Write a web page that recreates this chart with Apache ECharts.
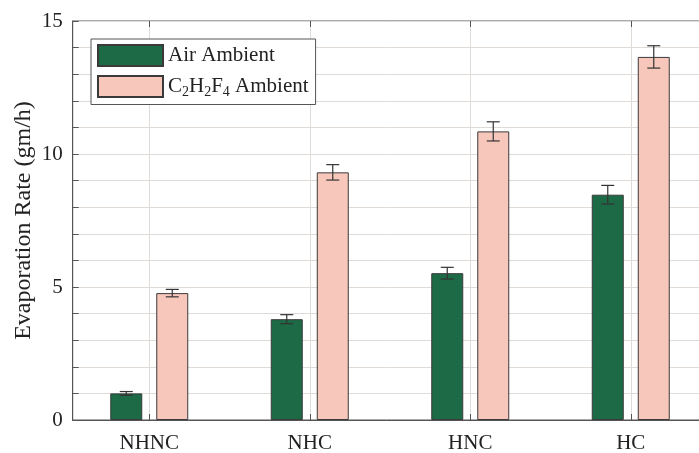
<!DOCTYPE html>
<html>
<head>
<meta charset="utf-8">
<script src="https://cdn.jsdelivr.net/npm/echarts@6/dist/echarts.min.js"></script>
<style>
html,body{margin:0;padding:0;background:#fff;}
#chart{width:699px;height:453px;}
</style>
</head>
<body>
<div id="chart"></div>
<script>
const categories = ['NHNC', 'NHC', 'HNC', 'HC'];
const airValues = [1.0, 3.79, 5.52, 8.47];
const airErrors = [0.07, 0.17, 0.22, 0.35];
const c2Values = [4.77, 9.31, 10.85, 13.65];
const c2Errors = [0.14, 0.29, 0.36, 0.42];
const yTickLabels = [0, 5, 10, 15];

const FONT = 'Liberation Serif';
const GREEN = '#1d6a46';
const PINK = '#f8c7bb';
const EDGE = '#3a3a3a';
const GRIDC = '#e1dbd8';
const BAR_W = 32;
const BAR_GAP = 14;
const OFF = (BAR_W + BAR_GAP) / 2;

const xs = categories.map((c, i) => i + 1);

function barData(vals) { return vals.map((v, i) => [xs[i], v]); }
function errData(vals, errs) { return vals.map((v, i) => [xs[i], v, errs[i]]); }

function errRender(offset) {
  return function (params, api) {
    const x = api.value(0), v = api.value(1), e = api.value(2);
    const t = api.coord([x, v + e]);
    const b = api.coord([x, v - e]);
    const cx = t[0] + offset;
    const hw = 6.5;
    const st = { stroke: '#333', lineWidth: 1.2 };
    return {
      type: 'group',
      children: [
        { type: 'line', shape: { x1: cx, y1: t[1], x2: cx, y2: b[1] }, style: st },
        { type: 'line', shape: { x1: cx - hw, y1: t[1], x2: cx + hw, y2: t[1] }, style: st },
        { type: 'line', shape: { x1: cx - hw, y1: b[1], x2: cx + hw, y2: b[1] }, style: st }
      ]
    };
  };
}

const chart = echarts.init(document.getElementById('chart'), null, { renderer: 'canvas' });

const xMin = 0.523, xMax = 4.48;
const option = {
  backgroundColor: '#fff',
  animation: false,
  textStyle: { fontFamily: FONT },
  grid: {
    left: 72.7, top: 21, bottom: 33, width: (xMax - xMin) * 160.5,
    outerBoundsMode: 'none', containLabel: false,
    show: true, borderColor: '#555', borderWidth: 1, backgroundColor: 'transparent'
  },
  legend: {
    orient: 'vertical', left: 91, top: 39,
    backgroundColor: '#fff', borderColor: '#555', borderWidth: 1,
    padding: [5, 7, 5, 6], itemGap: 8,
    itemWidth: 65, itemHeight: 21, icon: 'rect',
    data: ['Air Ambient', 'C2H2F4 Ambient'],
    formatter: function (name) {
      if (name === 'C2H2F4 Ambient') {
        return '{n|C}{s|2}{n|H}{s|2}{n|F}{s|4}{n| Ambient}';
      }
      return '{n|' + name + '}';
    },
    textStyle: {
      fontFamily: FONT, color: '#222',
      rich: {
        n: { fontFamily: FONT, fontSize: 21, color: '#222' },
        s: { fontFamily: FONT, fontSize: 14, color: '#222', padding: [12, 0, 0, 0] }
      }
    }
  },
  xAxis: [{
    type: 'value', min: xMin, max: xMax,
    axisLine: { show: true, lineStyle: { color: '#555' } },
    axisTick: { show: true, inside: true, length: 6, customValues: xs, lineStyle: { color: '#555' } },
    axisLabel: {
      show: true, customValues: xs, margin: 13,
      fontFamily: FONT, fontSize: 21, color: '#222',
      formatter: v => categories[Math.round(v) - 1] || ''
    },
    splitLine: { show: true, lineStyle: { color: GRIDC, width: 1 } }
  }, {
    type: 'value', position: 'top', min: xMin, max: xMax,
    axisLine: { show: false },
    axisTick: { show: true, inside: true, length: 6, customValues: xs, lineStyle: { color: '#555' } },
    axisLabel: { show: false },
    splitLine: { show: false }
  }],
  yAxis: {
    type: 'value', min: 0, max: 15, interval: 1,
    name: 'Evaporation Rate (gm/h)', nameLocation: 'middle', nameGap: 37,
    nameMoveOverlap: false,
    nameTextStyle: { fontFamily: FONT, fontSize: 24, color: '#222' },
    axisLine: { show: true, lineStyle: { color: '#555' } },
    axisTick: { show: true, inside: true, length: 6, lineStyle: { color: '#555' } },
    axisLabel: {
      fontFamily: FONT, fontSize: 21, color: '#222', margin: 10,
      formatter: v => (yTickLabels.indexOf(v) >= 0 ? String(v) : '')
    },
    splitLine: { show: true, lineStyle: { color: GRIDC, width: 1 } }
  },
  series: [
    {
      name: 'Air Ambient', type: 'bar', xAxisIndex: 0,
      barWidth: BAR_W, barGap: (BAR_GAP / BAR_W * 100) + '%',
      itemStyle: { color: GREEN, borderColor: EDGE, borderWidth: 1 },
      data: barData(airValues)
    },
    {
      name: 'C2H2F4 Ambient', type: 'bar', xAxisIndex: 0,
      barWidth: BAR_W, barGap: (BAR_GAP / BAR_W * 100) + '%',
      itemStyle: { color: PINK, borderColor: EDGE, borderWidth: 1 },
      data: barData(c2Values)
    },
    {
      type: 'custom', xAxisIndex: 0, z: 5, silent: true,
      renderItem: errRender(-OFF),
      encode: { x: 0, y: 1 },
      data: errData(airValues, airErrors)
    },
    {
      type: 'custom', xAxisIndex: 0, z: 5, silent: true,
      renderItem: errRender(OFF),
      encode: { x: 0, y: 1 },
      data: errData(c2Values, c2Errors)
    }
  ]
};
chart.setOption(option);
</script>
</body>
</html>
